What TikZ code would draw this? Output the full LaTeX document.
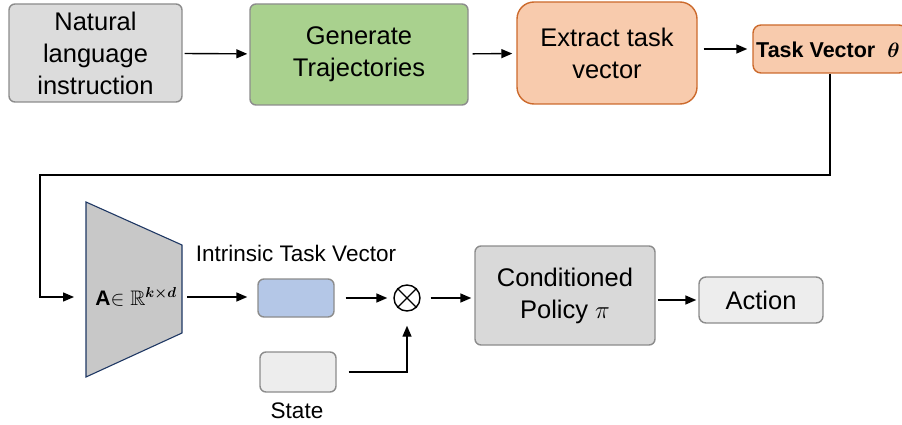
\documentclass[tikz,border=0pt]{standalone}
\usepackage{amsmath,amssymb,bm}
\usepackage{fontspec}
\setmainfont{Liberation Sans}
\usetikzlibrary{arrows.meta,calc}
\definecolor{bordgray}{HTML}{8C8C8C}
\definecolor{natfill}{HTML}{DCDCDC}
\definecolor{genfill}{HTML}{A9D18E}
\definecolor{orfill}{HTML}{F8CBAD}
\definecolor{ordraw}{HTML}{CC6A2C}
\definecolor{trapfill}{HTML}{C8C8C8}
\definecolor{trapdraw}{HTML}{1F3864}
\definecolor{bluefill}{HTML}{B4C7E7}
\definecolor{polfill}{HTML}{D9D9D9}
\definecolor{lightfill}{HTML}{EDEDED}
\begin{document}
\begin{tikzpicture}[x=1pt,y=-1pt,
  box/.style={draw=bordgray, line width=1.4pt, rounded corners=6pt, align=center,
    font=\fontsize{25.5}{32}\selectfont, inner sep=0pt},
  smallbox/.style={box, rounded corners=7pt},
  lbl/.style={font=\fontsize{22.5}{26}\selectfont, inner sep=0pt},
  arr/.style={-{Triangle[length=11pt,width=9pt]}, line width=1.4pt},
]
\useasboundingbox (0,0) rectangle (902,425);
\clip (0,0) rectangle (902,425);

% top row
\node[box, fill=natfill, minimum width=173pt, minimum height=98pt] (nat) at (95.5,53) {Natural\\language\\instruction};
\node[box, fill=genfill, minimum width=218pt, minimum height=101pt] (gen) at (359,54.5) {Generate\\Trajectories};
\node[box, fill=orfill, draw=ordraw, rounded corners=17pt, minimum width=180pt, minimum height=102pt] (ext) at (607,53) {Extract task\\vector};
\node[box, fill=orfill, draw=ordraw, rounded corners=8pt, minimum width=154pt, minimum height=48pt] (tv) at (830,49) {};
\node[anchor=west, inner sep=0pt, font=\fontsize{21.5}{24}\selectfont\bfseries] (tvtext) at (756,50) {Task Vector\ \ $\boldsymbol{\theta}$};

\draw[arr, shorten <=2pt, shorten >=2pt] (nat) -- (gen);
\draw[arr, shorten <=4pt, shorten >=4pt] (gen) -- (ext);
\draw[arr, shorten <=6pt, shorten >=5pt] (ext.east |- tv.west) -- (tv.west);

% trapezoid
\coordinate (tl) at (86,202);
\coordinate (tr) at (182,245);
\coordinate (br) at (182,333);
\coordinate (bl) at (86,377);
\draw[fill=trapfill, draw=trapdraw, line width=1.1pt] (tl) -- (tr) -- (br) -- (bl) -- cycle;
\node[inner sep=0pt, font=\fontsize{21}{24}\selectfont] (A) at (136,297) {\textbf{A}$\in$ $\mathbb{R}^{\boldsymbol{k\times d}}$};
\coordinate (trin) at (74,297);
\coordinate (trout) at (187,297);

% feedback connector
\coordinate (bend) at (40,175);
\draw[arr] (tv.south) |- (bend) |- (trin);

% lower row
\node[box, fill=bluefill, minimum width=76pt, minimum height=38pt] (blue) at (296,298) {};
\node[lbl] (itv) at (296,253) {Intrinsic Task Vector};
\node[box, fill=lightfill, minimum width=76pt, minimum height=40pt] (state) at (298,372) {};
\node[lbl] (statelbl) at (297,411) {State};
\node[draw, circle, line width=1.4pt, minimum size=26pt, inner sep=0pt] (ot) at (407,298) {};
\draw[line width=1.4pt] (ot.45) -- (ot.225) (ot.135) -- (ot.-45);
\node[box, fill=polfill, minimum width=180pt, minimum height=99pt] (pol) at (565,295.5) {Conditioned\\Policy $\pi$};
\node[smallbox, fill=lightfill, minimum width=124pt, minimum height=46pt] (act) at (761,300) {Action};

\draw[arr, shorten >=10pt] (trout) -- (blue.west |- trout);
\draw[arr, shorten <=11pt, shorten >=6pt] (blue.east |- ot.west) -- (ot.west);
\draw[arr, shorten <=10pt, shorten >=3pt] (ot.east) -- (pol.west |- ot.east);
\draw[arr, shorten <=2pt, shorten >=2pt] (pol.east |- act.west) -- (act.west);
\draw[arr, shorten <=12pt, shorten >=14pt] (state.east) -| (ot.south);
\end{tikzpicture}
\end{document}
